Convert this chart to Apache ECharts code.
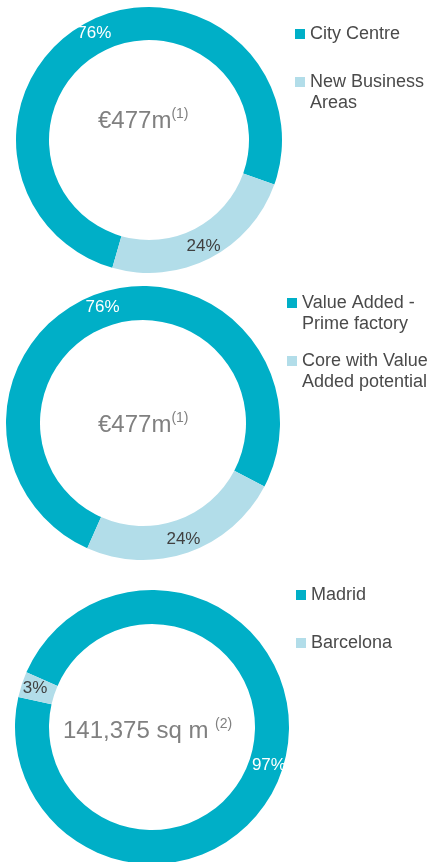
<!DOCTYPE html>
<html>
<head>
<meta charset="utf-8">
<script src="https://cdn.jsdelivr.net/npm/echarts@6/dist/echarts.min.js"></script>
<style>
  html, body { margin: 0; padding: 0; background: #fff; }
</style>
</head>
<body>
<div id="chart" style="width: 429px; height: 862px;"></div>
<script>
// data for the three rings
var areaNames = ['City Centre', 'New Business\nAreas'];
var areaValues = [76, 24];
var typeNames = ['Value Added -\nPrime factory', 'Core with Value\nAdded potential'];
var typeValues = [76, 24];
var cityNames = ['Madrid', 'Barcelona'];
var cityValues = [97, 3];
var centerTexts = [['€477m', '(1)'], ['€477m', '(1)'], ['141,375 sq m ', '(2)']];

var DARK = '#00afc7';
var LIGHT = '#b2dde9';
var font = '"Liberation Sans", Arial, sans-serif';

// layout of each ring (px)
var rings = [
  { names: areaNames, values: areaValues, center: [149, 140], radius: [100, 133], startAngle: 254,
    textX: 98, textY: 121, legendX: 295, legendY: [34, 82] },
  { names: typeNames, values: typeValues, center: [143, 423], radius: [103, 137], startAngle: 246,
    textX: 98, textY: 425, legendX: 287, legendY: [303, 361] },
  { names: cityNames, values: cityValues, center: [152, 727], radius: [103, 137], startAngle: 156.5,
    textX: 63, textY: 731, legendX: 296, legendY: [595, 643] }
];

var series = [];
var graphics = [];

rings.forEach(function (ring, i) {
  series.push({
    type: 'pie',
    center: ring.center,
    radius: ring.radius,
    startAngle: ring.startAngle,
    clockwise: true,
    avoidLabelOverlap: false,
    silent: true,
    label: {
      show: true,
      position: 'inside',
      formatter: '{c}%',
      fontFamily: font,
      fontSize: 17
    },
    labelLine: { show: false },
    itemStyle: { borderWidth: 0 },
    data: ring.names.map(function (n, k) {
      return {
        name: n,
        value: ring.values[k],
        itemStyle: { color: k === 0 ? DARK : LIGHT },
        label: { color: k === 0 ? '#ffffff' : '#404040' }
      };
    })
  });

  // center text
  graphics.push({
    type: 'text',
    x: ring.textX,
    y: ring.textY,
    style: {
      text: '{a|' + centerTexts[i][0] + '}{b|' + centerTexts[i][1] + '}',
      verticalAlign: 'middle',
      align: 'left',
      rich: {
        a: { fontFamily: font, fontSize: 24, fill: '#808080', lineHeight: 28 },
        b: { fontFamily: font, fontSize: 14, fill: '#808080', verticalAlign: 'top', lineHeight: 28, padding: [0, 0, 5, 0] }
      }
    }
  });

  // legend
  ring.names.forEach(function (n, k) {
    graphics.push({
      type: 'rect',
      shape: { x: ring.legendX, y: ring.legendY[k] - 5, width: 10, height: 10 },
      style: { fill: k === 0 ? DARK : LIGHT }
    });
    graphics.push({
      type: 'text',
      x: ring.legendX + 15,
      y: ring.legendY[k] - 10.5,
      style: {
        text: n,
        fontFamily: font,
        fontSize: 18,
        lineHeight: 21,
        fill: '#4a4a4a',
        verticalAlign: 'top',
        align: 'left'
      }
    });
  });
});

var myChart = echarts.init(document.getElementById('chart'));
var option = {
  animation: false,
  backgroundColor: '#ffffff',
  series: series,
  graphic: graphics
};
option && myChart.setOption(option);
</script>
</body>
</html>
